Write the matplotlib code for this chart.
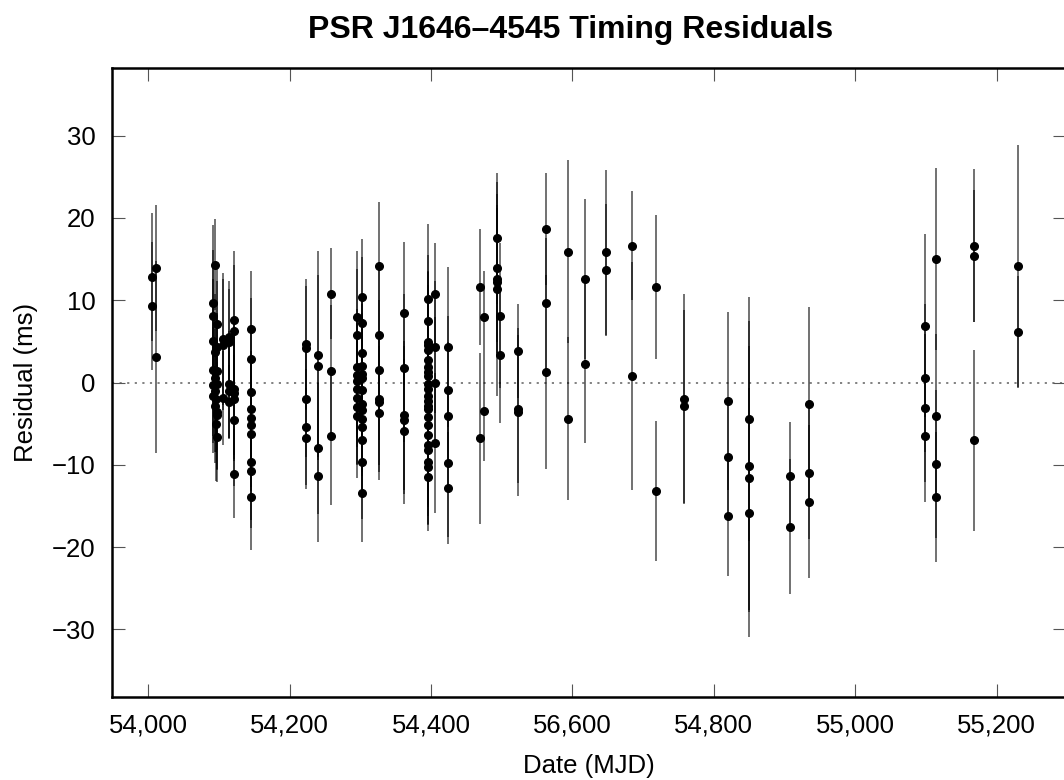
import numpy as np
import matplotlib
matplotlib.use('Agg')
import matplotlib.pyplot as plt

plt.rcParams['font.family'] = ['Liberation Sans', 'DejaVu Sans']

# timing residuals (MJD, residual in ms, 1-sigma error in ms)
mjd = [54006, 54006, 54011, 54011,
       54094, 54092, 54092, 54097, 54092, 54097, 54094, 54092, 54097, 54094,
       54097, 54092, 54095, 54092, 54096, 54094, 54097, 54098, 54096, 54097,
       54106, 54106, 54106,
       54114, 54114, 54114, 54114, 54114,
       54122, 54122, 54122, 54122, 54122, 54122, 54122,
       54146, 54146, 54146, 54146, 54146, 54146, 54146, 54146, 54146, 54146,
       54223, 54223, 54223, 54223, 54223,
       54241, 54241, 54241, 54241,
       54258, 54258, 54258,
       54295, 54295, 54295, 54295, 54295, 54295, 54295, 54295, 54295,
       54302, 54302, 54302, 54302, 54302, 54302, 54302, 54302, 54302, 54302,
       54302, 54302, 54302, 54302,
       54327, 54327, 54327, 54327, 54327, 54327,
       54362, 54362, 54362, 54362, 54362,
       54396, 54396, 54396, 54396, 54396, 54396, 54396, 54396, 54396, 54396,
       54396, 54396, 54396, 54396, 54396, 54396, 54396, 54396, 54396, 54396,
       54396, 54396, 54396,
       54406, 54406, 54406, 54406,
       54424, 54424, 54424, 54424, 54424,
       54469, 54469, 54475, 54475,
       54494, 54494, 54494, 54494, 54494,
       54498, 54498,
       54523, 54523, 54523,
       54562, 54562, 54562,
       54594, 54594,
       54618, 54618,
       54648, 54648,
       54684, 54684,
       54718, 54718,
       54758, 54758,
       54820, 54820, 54820,
       54850, 54850, 54850, 54850,
       54908, 54908,
       54934, 54934, 54934,
       55099, 55099, 55099, 55099,
       55114, 55114, 55114, 55114,
       55168, 55168, 55168,
       55230, 55230]

resid = [12.8, 9.3, 13.9, 3.1,
         14.3, 9.6, 8.1, 7.1, 5.1, 4.3, 3.7, 1.5, 1.4, 0.6,
         -0.2, -0.3, -1.0, -1.6, -2.0, -2.8, -3.6, -4.0, -5.0, -6.6,
         5.3, 4.6, -1.9,
         5.5, 4.9, -0.2, -1.0, -2.4,
         7.6, 6.3, -0.8, -1.3, -2.0, -4.6, -11.1,
         6.5, 2.8, -1.2, -3.2, -4.3, -5.2, -6.2, -9.7, -10.7, -13.9,
         4.7, 4.2, -2.0, -5.4, -6.8,
         3.3, 2.0, -8.0, -11.4,
         10.8, 1.4, -6.5,
         8.0, 5.8, 1.9, 0.9, 0.2, -0.8, -1.9, -3.0, -4.1,
         10.4, 7.2, 3.6, 2.0, 1.0, 0.5, -0.9, -2.6, -3.4, -4.4,
         -5.4, -7.0, -9.6, -13.4,
         14.1, 5.8, 1.5, -2.0, -2.4, -3.7,
         8.4, 1.8, -4.0, -4.6, -5.9,
         10.1, 7.5, 4.9, 4.6, 3.9, 2.7, 1.9, 1.3, 0.8, -0.2,
         -0.8, -1.6, -2.2, -2.8, -3.2, -4.2, -5.2, -6.4, -7.6, -8.2,
         -9.7, -10.3, -11.5,
         10.8, 4.3, 0.0, -7.4,
         4.3, -0.9, -4.1, -9.8, -12.8,
         11.6, -6.8, 8.0, -3.5,
         17.5, 13.9, 12.6, 12.2, 11.4,
         8.1, 3.4,
         3.8, -3.2, -3.6,
         18.6, 9.6, 1.3,
         15.9, -4.4,
         12.6, 2.3,
         15.8, 13.7,
         16.6, 0.8,
         11.6, -13.2,
         -2.0, -2.9,
         -2.2, -9.0, -16.2,
         -4.4, -10.2, -11.6, -15.8,
         -11.3, -17.5,
         -2.6, -11.0, -14.5,
         6.9, 0.5, -3.1, -6.5,
         15.0, -4.1, -9.9, -13.9,
         16.6, 15.4, -7.0,
         14.1, 6.1]

err = [7.8, 7.8, 7.7, 11.7,
       5.5, 9.5, 8.0, 7.0, 7.5, 8.0, 7.0, 8.0, 7.0, 7.5,
       8.0, 7.0, 7.5, 7.0, 6.5, 7.0, 7.0, 6.5, 7.0, 5.5,
       8.0, 8.0, 5.7,
       6.8, 6.5, 6.5, 5.8, 4.5,
       8.4, 8.0, 8.0, 8.0, 7.5, 8.0, 5.4,
       7.0, 7.5, 7.5, 7.0, 7.0, 7.5, 7.0, 7.0, 7.0, 6.5,
       7.9, 7.5, 7.0, 7.0, 6.1,
       12.7, 11.0, 8.0, 8.0,
       5.5, 8.0, 8.4,
       8.0, 8.0, 7.0, 7.5, 7.0, 7.0, 8.0, 7.0, 7.5,
       7.0, 8.0, 7.0, 7.5, 7.0, 8.0, 7.5, 7.0, 7.5, 7.0,
       7.5, 7.0, 7.0, 6.0,
       7.8, 8.0, 8.5, 8.0, 8.5, 8.1,
       8.7, 9.0, 9.0, 9.0, 8.8,
       9.1, 8.0, 8.5, 9.0, 8.0, 8.5, 9.0, 8.0, 8.5, 9.0,
       8.0, 8.5, 9.0, 8.0, 8.5, 7.5, 8.0, 8.5, 7.5, 8.0,
       7.5, 7.0, 6.5,
       6.1, 8.0, 8.0, 8.5,
       9.7, 9.0, 9.0, 9.0, 6.8,
       7.1, 10.4, 5.5, 6.0,
       8.0, 9.0, 9.0, 9.0, 13.0,
       8.8, 8.3,
       5.7, 9.0, 10.2,
       6.8, 8.0, 11.8,
       11.1, 9.9,
       9.7, 9.7,
       10.0, 8.0,
       6.6, 13.8,
       8.8, 8.5,
       12.7, 11.7,
       10.8, 7.0, 7.3,
       14.8, 17.7, 16.0, 15.1,
       6.5, 8.2,
       11.8, 8.0, 9.3,
       11.1, 9.0, 9.0, 8.0,
       11.0, 10.0, 9.0, 7.9,
       9.3, 8.0, 11.0,
       14.7, 6.8]

tick_pos = [54000, 54200, 54400, 54600, 54800, 55000, 55200]
tick_labels = ['54,000', '54,200', '54,400', '56,600', '54,800', '55,000', '55,200']

fig = plt.figure(figsize=(10.64, 7.8), dpi=100)
ax = fig.add_axes([112/1064, 1 - 697/780, (1066 - 112)/1064, (697 - 68)/780])

ax.axhline(0, color='#777777', lw=1.3, ls=(0, (1.2, 3)), zorder=1)
ax.errorbar(mjd, resid, yerr=err, fmt='none', ecolor='black', elinewidth=1.3,
            alpha=0.6, capsize=0, zorder=2)
ax.plot(mjd, resid, 'o', color='black', ms=5.5, zorder=3)

ax.set_xlim(53949, 55298)
ax.set_ylim(-38.2, 38.2)
ax.set_xticks(tick_pos)
ax.set_xticklabels(tick_labels)
ax.set_yticks([-30, -20, -10, 0, 10, 20, 30])
ax.set_yticklabels(['\u221230', '\u221220', '\u221210', '0', '10', '20', '30'])

for s in ax.spines.values():
    s.set_linewidth(1.8)
ax.tick_params(direction='in', length=9.5, width=0.8, color='#555555',
               top=True, right=True, labelsize=18.5)
ax.tick_params(axis='x', pad=12)
ax.tick_params(axis='y', pad=12)

ax.set_xlabel('Date (MJD)', fontsize=18.5, labelpad=12)
ax.set_ylabel('Residual (ms)', fontsize=18.5, labelpad=10)
fig.text(571 / 1064, 1 - 30/780, 'PSR J1646\u20134545 Timing Residuals',
         ha='center', va='center', fontsize=23, fontweight='bold')

fig.savefig('out.png', dpi=100)
